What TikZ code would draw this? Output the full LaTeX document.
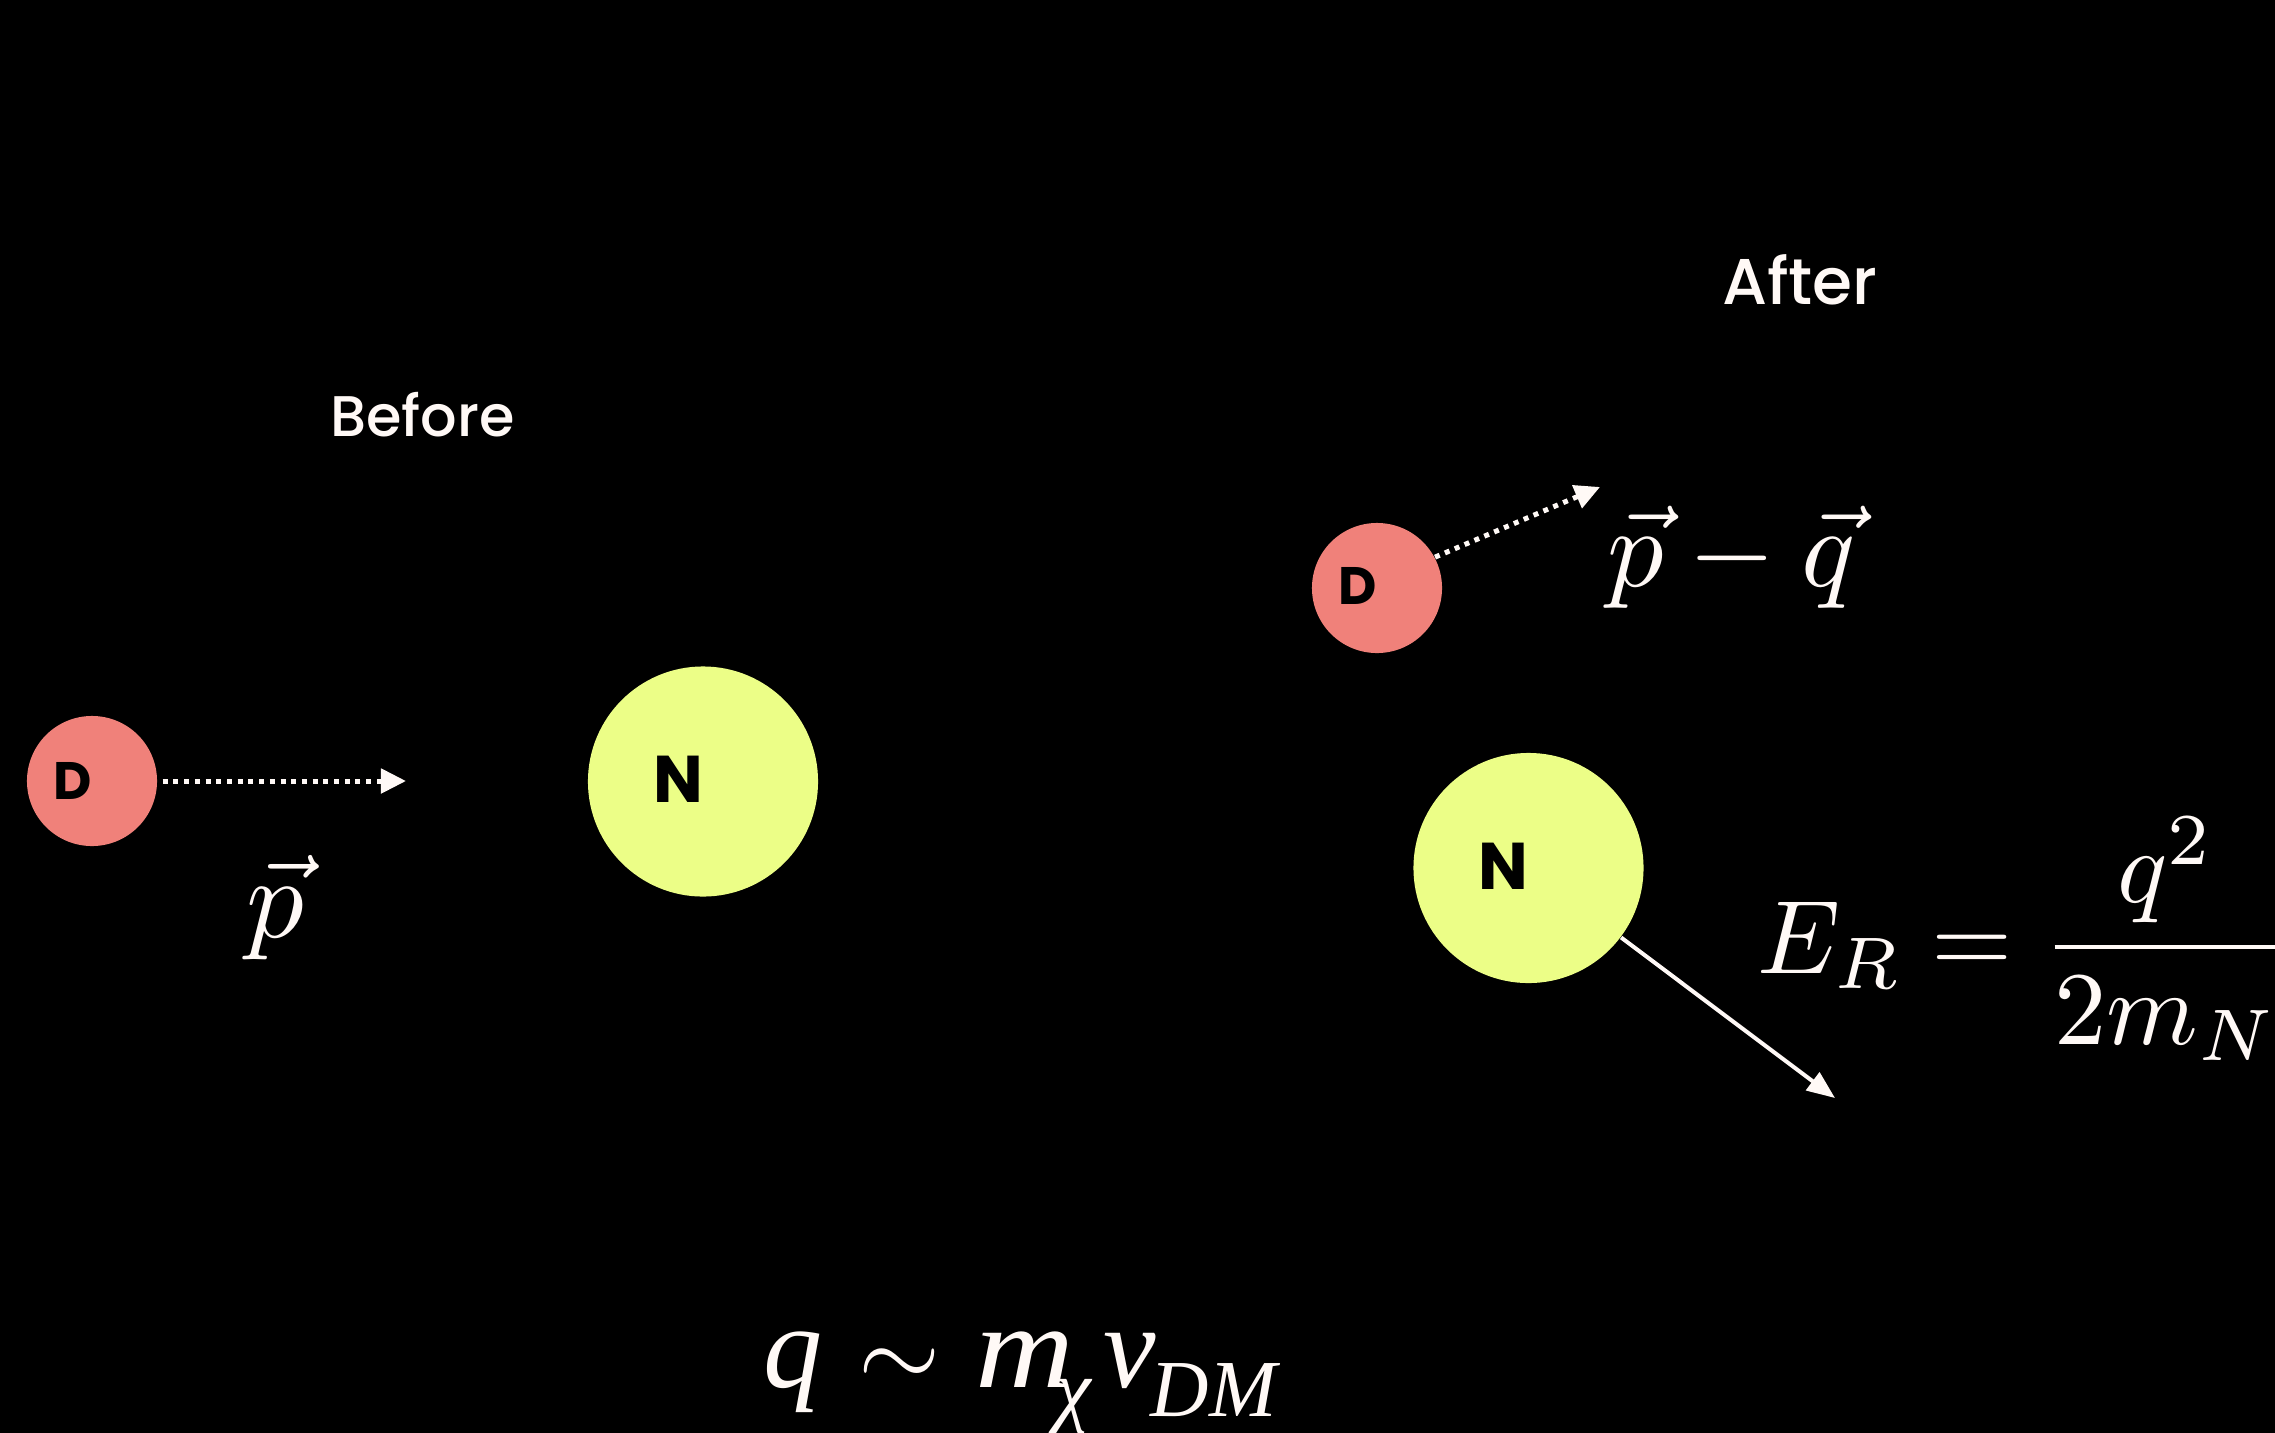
\documentclass[tikz,border=0pt]{standalone}
\usepackage{graphicx}
\usepackage{fontspec}
\usetikzlibrary{arrows.meta}
\newfontfamily\popfont{Poppins}
\IfFontExistsTF{Poppins Medium}{\newfontfamily\popmed{Poppins Medium}}{\newcommand\popmed{\popfont\bfseries}}
\newfontfamily\tnrfont{Liberation Serif}
\definecolor{dcol}{HTML}{F0817A}
\definecolor{ncol}{HTML}{ECFE87}
\definecolor{wcol}{HTML}{FFF9F6}
\begin{document}
\begin{tikzpicture}[x=0.01cm,y=-0.01cm,
  dm/.style={circle, fill=dcol, minimum size=1.3cm, inner sep=0pt},
  nuc/.style={circle, fill=ncol, minimum size=2.3cm, inner sep=0pt},
  dlet/.style={text=black, inner sep=0pt, font=\popfont\bfseries\fontsize{15}{15}\selectfont},
  nlet/.style={text=black, inner sep=0pt, font=\popfont\bfseries\fontsize{18.8}{19}\selectfont},
  title/.style={text=wcol, inner sep=0pt},
  mathlbl/.style={text=wcol, inner sep=0pt, anchor=base west},
  tnr/.style={text=wcol, inner sep=0pt, anchor=base west, font=\tnrfont\itshape\fontsize{33.6}{40}\selectfont},
  tnrsub/.style={text=wcol, inner sep=0pt, anchor=base west, font=\tnrfont\itshape\fontsize{23}{28}\selectfont},
  dotarrow/.style={draw=wcol, line width=0.05cm, dash pattern=on 0.05cm off 0.057cm, -{Triangle[length=0.25cm,width=0.24cm]}},
  solidarrow/.style={draw=wcol, line width=0.04cm, -{Triangle[length=0.28cm,width=0.22cm]}}
]
\fill[black] (0,0) rectangle (2275,1433);
\useasboundingbox (0,0) rectangle (2275,1433);

% titles
\node[title, font={\popmed\fontsize{16.3}{17}\selectfont}] (before) at (422.5,415) {Before};
\node[title, font={\popmed\fontsize{18.4}{19}\selectfont}] (after) at (1800,279.5) {After};

% before
\node[dm] (dl) at (92,781) {};
\node[dlet] (dlt) at ([xshift=-0.19cm]dl.center) {D};
\node[nuc] (nl) at (703,781.5) {};
\node[nlet] (nlt) at ([xshift=-0.25cm,yshift=0.02cm]nl.center) {N};
\coordinate (tl) at (406,781);
\draw[dotarrow, shorten <=0.05cm] (dl.east) -- (tl);
\node[mathlbl, scale=3.27] (pl) at (244,937) {$\vec{p}$};

% after
\node[dm] (dr) at (1377,588) {};
\node[dlet] (drt) at ([xshift=-0.19cm,yshift=0.02cm]dr.center) {D};
\coordinate (tr) at (1600,487);
\draw[dotarrow] (dr.28) -- (tr);
\node[mathlbl, scale=3.2] (pq) at (1605,586) {$\vec{p} - \vec{q}$};

\node[nuc] (nr) at (1528.5,868) {};
\node[nlet] (nrt) at ([xshift=-0.25cm,yshift=0.02cm]nr.center) {N};
\coordinate (tn) at (1835,1098);
\draw[solidarrow] (nr) -- (tn);

\node[mathlbl, scale=2.97] (er) at (1755,973) {$\displaystyle E_R = \frac{q^2}{2m_N}$};

% bottom formula
\node[tnr] (fq) at (763,1387) {q};
\node[mathlbl] (fsim) at (858,1387) {\scalebox{3}{$\sim$}};
\node[tnr] (fm) at (975,1387) {\scalebox{1.16}[1]{m}};
\node[tnrsub] (fchi) at (1055,1416) {χ};
\node[tnr] (fv) at (1103,1387) {v};
\node[tnrsub] (fdm) at (1150,1416) {DM};
\end{tikzpicture}
\end{document}
